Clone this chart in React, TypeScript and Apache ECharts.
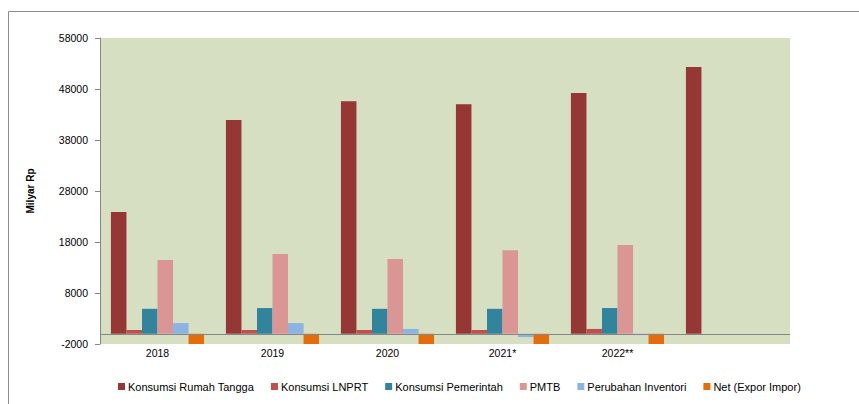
import React, { useEffect, useRef } from "react";
import * as echarts from "echarts";

const categories = ["2018", "2019", "2020", "2021*", "2022**", ""];
const seriesNames = [
  "Konsumsi Rumah Tangga",
  "Konsumsi LNPRT",
  "Konsumsi Pemerintah",
  "PMTB",
  "Perubahan Inventori",
  "Net (Expor Impor)",
];
const rumahTangga = [23900, 41900, 45600, 45000, 47200, 52300];
const lnprt = [750, 750, 750, 750, 950, null];
const pemerintah = [4900, 5050, 4900, 4900, 5050, null];
const pmtb = [14450, 15650, 14650, 16400, 17400, null];
const inventori = [2100, 2100, 950, -650, -250, null];
const netExpor = [-2000, -2000, -2000, -2000, -2000, null];
const yTicks = { min: -2000, max: 58000, interval: 10000 };

const colors = ["#953735", "#c0504d", "#31849b", "#da9694", "#8db3e2", "#e46c0a"];
const FONT = "Liberation Sans";

export default function App() {
  const ref = useRef<HTMLDivElement>(null);
  useEffect(() => {
    if (!ref.current) return;
    const chart = echarts.init(ref.current, undefined, { renderer: "svg" });
    const values = [rumahTangga, lnprt, pemerintah, pmtb, inventori, netExpor];
    chart.setOption({
      animation: false,
      color: colors,
      textStyle: { fontFamily: FONT },
      graphic: [
        {
          type: "rect",
          shape: { x: 8.5, y: 11.5, width: 900, height: 500 },
          style: { fill: "none", stroke: "#8c8c8c", lineWidth: 1 },
          silent: true,
        },
      ],
      grid: {
        left: 100,
        right: 69,
        top: 38,
        bottom: 60,
        show: true,
        backgroundColor: "#d7dfc3",
        borderWidth: 0,
      },
      legend: {
        left: 113,
        top: 376,
        icon: "rect",
        itemWidth: 7,
        itemHeight: 7,
        itemGap: 17,
        textStyle: { fontSize: 11, color: "#000", fontFamily: FONT, padding: [0, 0, 0, -2] },
        data: seriesNames,
      },
      xAxis: {
        type: "category",
        data: categories,
        axisLine: { show: false, onZero: false },
        axisTick: { show: false },
        axisLabel: { color: "#000", fontSize: 10.5, margin: 3, fontFamily: FONT },
        splitLine: { show: false },
      },
      yAxis: {
        type: "value",
        min: yTicks.min,
        max: yTicks.max,
        interval: yTicks.interval,
        name: "Milyar Rp",
        nameLocation: "middle",
        nameRotate: 90,
        nameGap: 65,
        nameTextStyle: { fontWeight: "bold", fontSize: 10, color: "#000", fontFamily: FONT },
        axisLine: { show: true, lineStyle: { color: "#868686" } },
        axisTick: { show: true, length: 5, lineStyle: { color: "#868686" } },
        axisLabel: {
          color: "#000",
          fontSize: 10.5,
          margin: 12,
          fontFamily: FONT,
          formatter: (v: number) => String(v),
        },
        splitLine: { show: false },
      },
      series: seriesNames.map((name, i) => ({
        name,
        type: "bar",
        data: values[i],
        barGap: "0%",
        barCategoryGap: "19%",
        itemStyle: { color: colors[i] },
        ...(i === 0
          ? {
              markLine: {
                silent: true,
                symbol: ["none", "none"],
                label: { show: false },
                lineStyle: { color: "#868686", width: 1, type: "solid" },
                data: [{ yAxis: 0 }],
              },
            }
          : {}),
      })),
    });
    return () => chart.dispose();
  }, []);
  return (
    <div
      ref={ref}
      style={{ position: "fixed", left: 0, top: 0, width: 859, height: 404, background: "#fff" }}
    />
  );
}
